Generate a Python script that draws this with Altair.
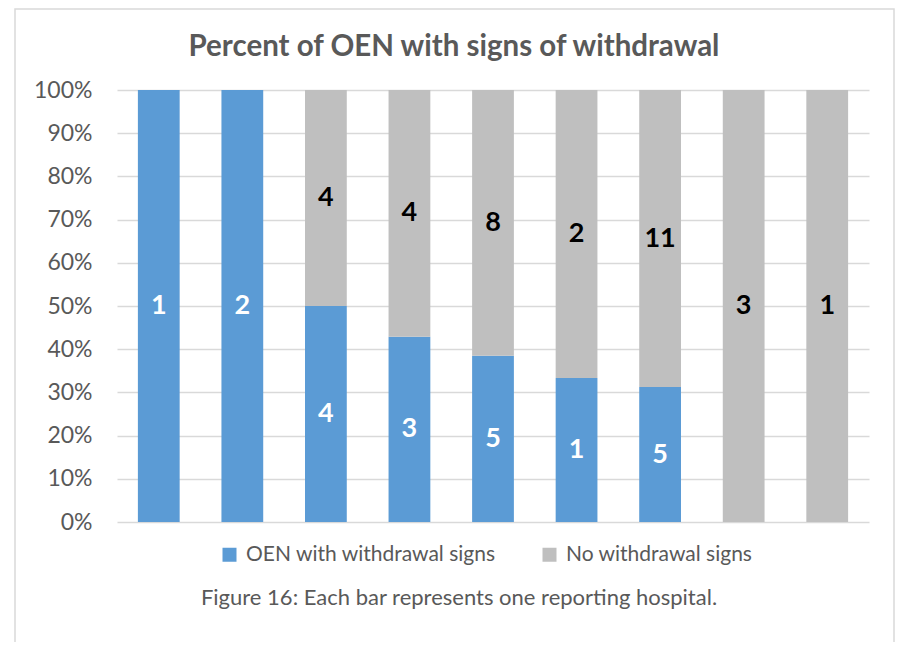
import altair as alt
import pandas as pd

TITLE = "Percent of OEN with signs of withdrawal"
CAPTION = "Figure 16: Each bar represents one reporting hospital."
hospitals = [1, 2, 3, 4, 5, 6, 7, 8, 9]
categories = ["OEN with withdrawal signs", "No withdrawal signs"]
with_signs = [1, 2, 4, 3, 5, 1, 5, 0, 0]
no_signs = [0, 0, 4, 4, 8, 2, 11, 3, 1]
colors = ["#5B9BD5", "#BFBFBF"]
tick_values = [0, 0.1, 0.2, 0.3, 0.4, 0.5, 0.6, 0.7, 0.8, 0.9, 1.0]

rows = []
for h, a, b in zip(hospitals, with_signs, no_signs):
    rows.append({"hospital": h, "category": categories[0], "order": 0, "count": a})
    rows.append({"hospital": h, "category": categories[1], "order": 1, "count": b})
df = pd.DataFrame(rows)

FONT = "Lato"
GREY_TEXT = "#595959"

x_enc = alt.X("hospital:O", axis=None,
              scale=alt.Scale(paddingInner=0.5, paddingOuter=0.25))

bars = alt.Chart(df).mark_bar().encode(
    x=x_enc,
    y=alt.Y("count:Q", stack="normalize",
            scale=alt.Scale(domain=[0, 1]),
            axis=alt.Axis(values=tick_values, format=".0%", title=None,
                          domain=False, ticks=False, grid=True,
                          gridColor="#D9D9D9", gridWidth=1.3,
                          labelFont=FONT, labelFontSize=23, labelColor=GREY_TEXT,
                          labelPadding=25)),
    color=alt.Color("category:N",
                    scale=alt.Scale(domain=categories, range=colors),
                    sort=categories,
                    legend=alt.Legend(title=None, orient="none", direction="horizontal",
                                      legendX=102, legendY=454, padding=0,
                                      symbolType="square", symbolSize=196,
                                      symbolStrokeWidth=0,
                                      labelFont=FONT, labelFontSize=21,
                                      labelColor=GREY_TEXT, labelOffset=6,
                                      columnPadding=43, labelLimit=400)),
    order=alt.Order("order:Q", sort="ascending"),
)

labels_base = alt.Chart(df).transform_filter(
    alt.datum.count > 0
).transform_joinaggregate(
    total="sum(count)", groupby=["hospital"]
).transform_window(
    cum="sum(count)", groupby=["hospital"], sort=[alt.SortField("order")]
).transform_calculate(
    mid="(datum.cum - datum.count / 2) / datum.total"
)

label_enc = dict(
    x=x_enc,
    y=alt.Y("mid:Q", scale=alt.Scale(domain=[0, 1])),
    text=alt.Text("count:Q"),
)

blue_labels = labels_base.transform_filter(alt.datum.order == 0).mark_text(
    font=FONT, fontSize=27, fontWeight="bold", color="#FFFFFF", baseline="middle"
).encode(**label_enc)

grey_labels = labels_base.transform_filter(alt.datum.order == 1).mark_text(
    font=FONT, fontSize=27, fontWeight="bold", color="#000000", baseline="middle"
).encode(**label_enc)

one = pd.DataFrame({"caption": [CAPTION], "title": [TITLE]})

border = alt.Chart(one).mark_rect(fillOpacity=0, stroke="#D9D9D9", strokeWidth=1.5).encode(
    x=alt.value(-102), x2=alt.value(777), y=alt.value(-81), y2=alt.value(600)
)

title = alt.Chart(one).mark_text(
    font=FONT, fontSize=29.5, fontWeight="bold", color=GREY_TEXT,
    align="center", baseline="alphabetic"
).encode(x=alt.value(337), y=alt.value(-34), text="title:N")

caption = alt.Chart(one).mark_text(
    font=FONT, fontSize=22, color=GREY_TEXT, align="center", baseline="alphabetic"
).encode(x=alt.value(342), y=alt.value(515), text="caption:N")

chart = alt.layer(border, bars, blue_labels, grey_labels, title, caption).properties(
    width=752, height=432,
    autosize=alt.AutoSizeParams(type="none"),
    padding={"left": 109, "top": 82, "right": 26, "bottom": 120},
    background="#FFFFFF",
).configure_view(stroke=None)

chart.save("out.html", embed_options={"renderer": "svg", "actions": False})
